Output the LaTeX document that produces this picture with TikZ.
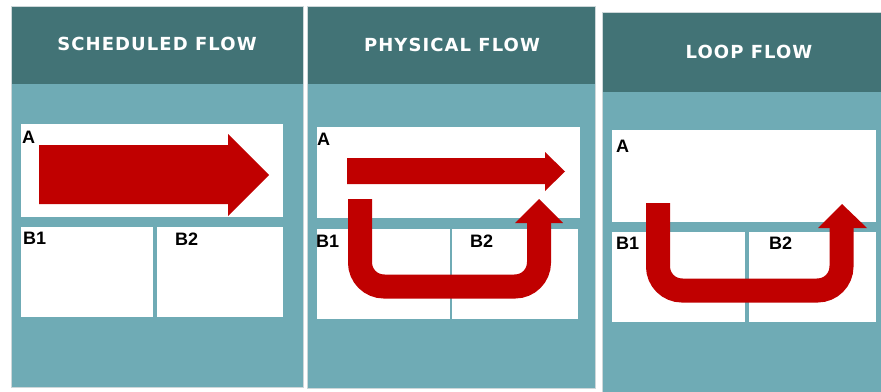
\documentclass[tikz,border=0pt]{standalone}
\usepackage{fontspec}
\newfontfamily\hdfont{DejaVu Sans}[LetterSpace=6]
\newfontfamily\lbfont{Liberation Sans}
\definecolor{hdr}{RGB}{66,115,118}
\definecolor{bodyc}{RGB}{111,171,181}
\definecolor{bord}{RGB}{205,215,217}
\definecolor{arw}{RGB}{192,0,0}
\begin{document}
\begin{tikzpicture}[x=1pt,y=-1pt,
  bodybox/.style={fill=bodyc},
  hdrbox/.style={fill=hdr},
  edge/.style={draw=bord,line width=0.8pt},
  cell/.style={fill=white},
  title/.style={text=white,inner sep=0,font=\hdfont\bfseries\fontsize{18}{18}\selectfont},
  lbl/.style={anchor=north west,inner sep=0,font=\lbfont\bfseries\fontsize{18}{18}\selectfont},
  blockarrow/.style={fill=arw},
  uarm/.style={draw=arw,line width=24pt,rounded corners=24pt}]
\useasboundingbox[fill=white] (0,0) rectangle (881,391);

% ---------- panel 1
\path[bodybox] (11,6) rectangle (303,387);
\path[hdrbox] (11,6) rectangle (303,84);
\path[edge] (11,6) rectangle (303,387);
\node[title] (t1) at (157,44) {SCHEDULED FLOW};
\path[cell] (21,124) rectangle (283,217);
\path[cell] (21,227) rectangle (153,317);
\path[cell] (157,227) rectangle (283,317);
\fill[blockarrow] (39,145) -- (228,145) -- (228,134) -- (269,175) -- (228,216) -- (228,204) -- (39,204) -- cycle;
\node[lbl] (a1) at (22,131) {A};
\node[lbl] (b11) at (23,231.5) {B1};
\node[lbl] (b21) at (175,232.5) {B2};

% ---------- panel 2
\path[bodybox] (307,6) rectangle (595,388);
\path[hdrbox] (307,6) rectangle (595,84);
\path[edge] (307,6) rectangle (595,388);
\node[title] (t2) at (452,45.3) {PHYSICAL FLOW};
\path[cell] (317,127) rectangle (580,218);
\path[cell] (317,229) rectangle (450,319);
\path[cell] (452,229) rectangle (578,319);
\node[lbl] (a2) at (317,133) {A};
\node[lbl] (b12) at (316,234.5) {B1};
\node[lbl] (b22) at (470,234.5) {B2};
\fill[blockarrow] (347,158) -- (545,158) -- (545,152) -- (565,171.5) -- (545,191) -- (545,184) -- (347,184) -- cycle;
\draw[uarm] (360,199) -- (360,286.5) -- (539,286.5) -- (539,222);
\fill[blockarrow] (515,223) -- (539,199) -- (563,223) -- cycle;

% ---------- panel 3
\path[bodybox] (602,12) rectangle (882,392);
\path[hdrbox] (602,12) rectangle (882,92);
\path[edge] (602,12) rectangle (882,392);
\node[title] (t3) at (749,51.5) {LOOP FLOW};
\path[cell] (612,130) rectangle (876,222);
\path[cell] (612,232) rectangle (745,322);
\path[cell] (749,232) rectangle (876,322);
\node[lbl] (a3) at (616,139.5) {A};
\node[lbl] (b13) at (616,237) {B1};
\node[lbl] (b23) at (769,237) {B2};
\draw[uarm] (658,203) -- (658,290.5) -- (841.5,290.5) -- (841.5,227);
\fill[blockarrow] (818,228) -- (842,204) -- (867,228) -- cycle;
\end{tikzpicture}
\end{document}
